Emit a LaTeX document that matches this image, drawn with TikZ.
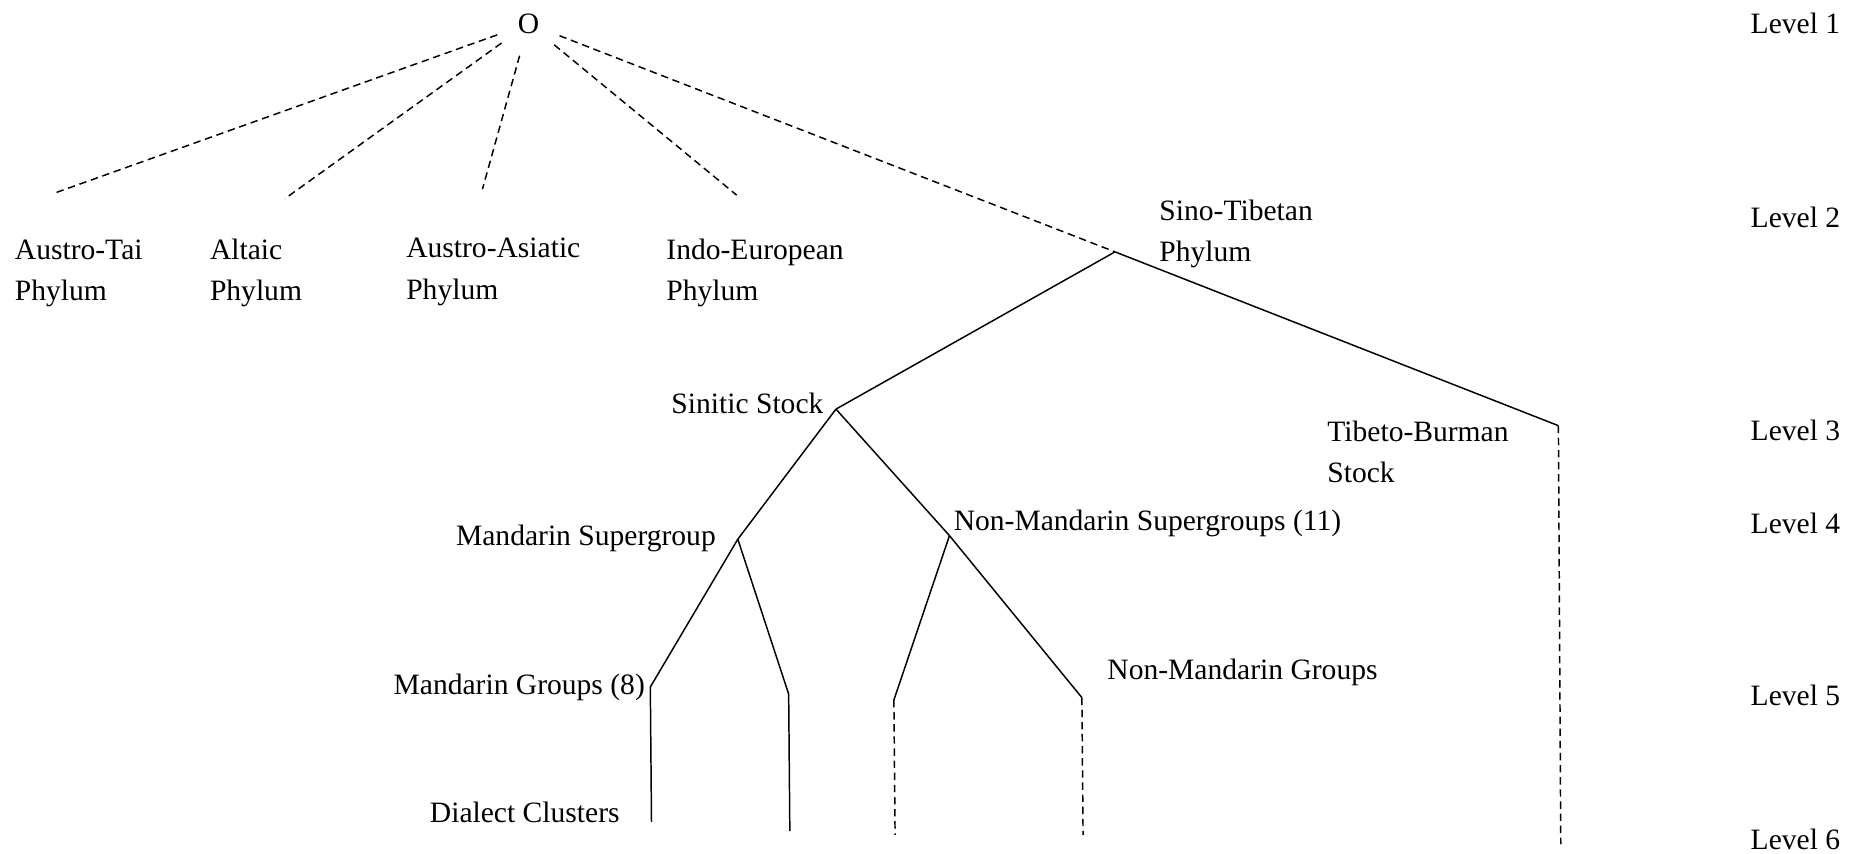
\documentclass[tikz,border=0pt]{standalone}
\usepackage{fontspec}
\setmainfont{Liberation Serif}
\usetikzlibrary{calc}
\tikzset{treeFig/.style={x=0.4pt,y=-0.4pt,line width=0.5pt},
         langText/.style={inner sep=0pt,font=\fontsize{10pt}{14pt}\selectfont,align=left},
         rootText/.style={langText,circle,minimum size=22pt},
         dashBranch/.style={dash pattern=on 2.5pt off 1.6pt}}

\begin{document}
\begin{tikzpicture}[treeFig]
			\useasboundingbox (0,0) rectangle (1568,722);
			%ROOT
			\node [rootText] (O) at (447,20) {O};
			%PHYLA
			\coordinate (at) at (47,163);
			\coordinate (al) at (241,168);
			\coordinate (aa) at (408,160);
			\coordinate (ie) at (623,165);
			\coordinate (st) at (943,213);
			\node [langText, anchor=west] (atT) at (12,231)  {Austro-Tai\\Phylum};
			\node [langText, anchor=west] (alT) at (177,231) {Altaic\\Phylum};
			\node [langText, anchor=west] (aaT) at (343,230) {Austro-Asiatic\\Phylum};
			\node [langText, anchor=west] (ieT) at (563,231) {Indo-European\\Phylum};
			\node [langText, anchor=west] (stT) at (980,198) {Sino-Tibetan\\Phylum};
			%STOCKS
			\coordinate (ss) at (707,346);
			\coordinate (tb) at (1318,360);
			\node [langText, anchor=east] (ssT) at (697,341)  {Sinitic Stock};
			\node [langText, anchor=west] (tbT) at (1122,382) {Tibeto-Burman\\Stock};
			%SUPERGROUPS
			\coordinate (ms) at (624,456);
			\coordinate (nms) at (803,453);
			\node [langText, anchor=east] (msT) at (606,455)  {Mandarin Supergroup};
			\node [langText, anchor=west] (nmsT) at (806,443) {Non-Mandarin Supergroups (11)};
			%GROUPS
			\coordinate (mg1) at (550,581);
			\coordinate (mg2) at (667,587);
			\coordinate (nmg1) at (756,592);
			\coordinate (nmg2) at (915,590);
			\node [langText, anchor=east] (mgT) at (546,581)  {Mandarin Groups (8)};
			\node [langText, anchor=west] (nmgT) at (936,569) {Non-Mandarin Groups};
			%CLUSTERS
			\coordinate (dc1) at (551,695);
			\coordinate (dc2) at (668,703);
			\coordinate (dc3) at (757,706);
			\coordinate (dc4) at (916,706);
			\coordinate (tbb) at (1320,714);
			\node [langText, anchor=west] (dcT) at (363,687) {Dialect Clusters};
			%LEVELS
			\foreach \n/\y in {1/20,2/184,3/364,4/443,5/588,6/710}
				\node [langText, anchor=west] (lv\n) at (1480,\y) {Level \n};

			\path
			%ROOT
			(O) edge [dashBranch] (at)
			(O) edge [dashBranch] (al)
			(O) edge [dashBranch] (aa)
			(O) edge [dashBranch] (ie)
			(O) edge [dashBranch] (st)

			%SINO-TIBETAN
			(st) edge (ss)
			(st) edge (tb)
			(tb) edge [dashBranch] (tbb)

			%SINITIC
			(ss) edge (ms)
			(ss) edge (nms)

			(ms) edge (mg1)
			(ms) edge (mg2)
			(mg1) edge (dc1)
			(mg2) edge (dc2)

			(nms) edge (nmg1)
			(nms) edge (nmg2)
			(nmg1) edge [dashBranch] (dc3)
			(nmg2) edge [dashBranch] (dc4)
			;
\end{tikzpicture}
\end{document}
